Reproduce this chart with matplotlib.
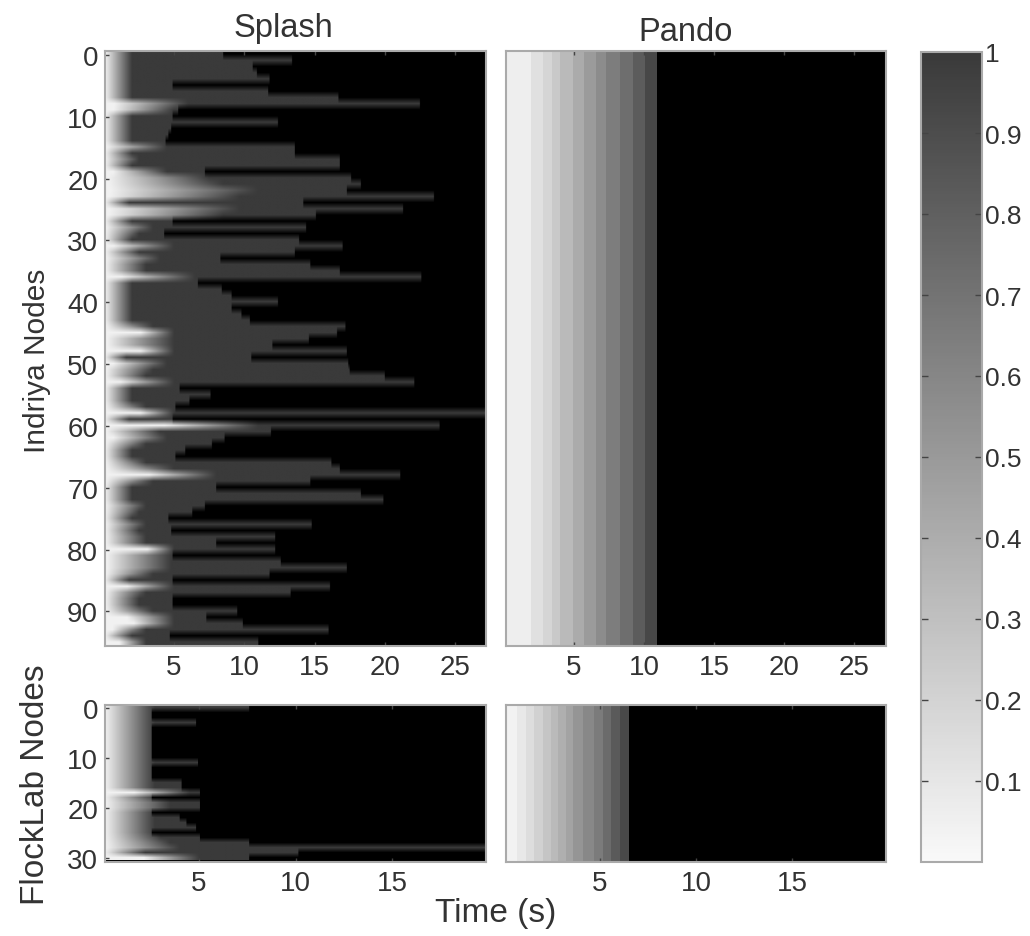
import numpy as np
import matplotlib; matplotlib.use("Agg")
import matplotlib.pyplot as plt
from matplotlib.colors import LinearSegmentedColormap, Normalize
from matplotlib.cm import ScalarMappable

W, H = 1030, 937
plt.rcParams.update({"font.family": ["Liberation Sans", "DejaVu Sans"], "font.size": 20,
                     "text.color": "#333333", "xtick.labelcolor": "#333333", "ytick.labelcolor": "#333333"})

# per node: time (s) the flood ends, time the ramp starts, time the ramp is full
indriya_end = [8.5, 13.4, 10.6, 10.9, 11.8, 4.9, 11.7, 16.7, 22.5, 5.3, 4.9, 12.4, 4.8, 4.6, 4.4, 13.6,
               13.6, 16.8, 16.8, 7.2, 17.6, 18.3, 17.3, 23.5, 14.2, 21.3, 15.1, 4.9, 14.4, 4.3, 13.9, 17.0,
               13.6, 8.3, 14.7, 16.8, 22.6, 6.7, 8.4, 9.1, 12.4, 9.1, 9.8, 10.4, 17.2, 16.6, 14.6, 12.0,
               17.3, 10.5, 17.4, 17.5, 20.0, 22.1, 5.4, 7.6, 6.1, 5.1, 27.3, 4.9, 23.9, 11.9, 8.6, 7.7,
               5.8, 5.1, 16.2, 16.8, 21.1, 14.7, 8.0, 18.3, 19.9, 7.2, 6.3, 4.6, 14.8, 4.8, 12.2, 8.0,
               12.2, 4.9, 12.6, 17.3, 11.8, 4.9, 16.1, 13.3, 4.9, 4.9, 9.5, 7.3, 9.9, 16.0, 4.7, 11.0]
indriya_hold = [0, 0, 0, 0, 0, 0, 0, 0, 0.5, 0.5, 0, 0, 0, 0, 0, 0,
                0, 0, 0, 0.5, 0, 0, 0, 0, 0, 0, 0, 0, 0, 0, 0, 0.5,
                0, 0, 0, 0, 1.0, 0, 0, 0, 0, 0, 0, 0, 0, 2.5, 0, 0,
                2.5, 0, 0.5, 0, 0, 1.0, 0, 0, 0, 0, 2.5, 0, 4.0, 0, 0.5, 0,
                0, 0, 0, 0, 3.0, 0, 0, 0, 0, 0, 0, 0, 0, 0, 0, 0,
                3.0, 0, 0, 0, 0, 0, 1.5, 0, 0, 0, 0, 1.5, 2.0, 0.5, 0, 1.0]
indriya_rise = [2, 2, 2, 2, 2, 2, 2, 2, 6.0, 5.0, 2, 2, 2, 2, 2, 4.5,
                2, 2.5, 2, 4.5, 7.5, 8.5, 11.0, 9.7, 1.8, 9.7, 8.5, 2, 3.5, 2.5, 2, 5.0,
                2.5, 4.0, 3.0, 3.0, 6.5, 2, 2, 2, 2, 2, 2, 2, 3.5, 5.0, 5.0, 5.0,
                5.0, 1.6, 4.5, 3.5, 3.0, 5.0, 2, 2, 2, 3.0, 5.0, 1.8, 11.0, 4.0, 4.5, 3.0,
                2, 2, 3.0, 5.0, 8.0, 3.5, 2, 2, 2, 3.0, 2.5, 2, 3.0, 2.5, 3.0, 3.0,
                5.0, 4.8, 4.8, 4.8, 3.5, 1.8, 5.0, 3.0, 2.5, 2.5, 3.5, 5.0, 5.0, 3.0, 2.0, 3.0]

flock_end = [7.6, 2.55, 2.55, 4.85, 2.55, 2.55, 2.55, 2.55, 2.55, 2.55, 2.55, 4.95, 2.55, 2.55, 2.55, 4.1,
             4.1, 5.05, 2.55, 5.05, 5.05, 2.55, 4.0, 4.35, 4.85, 2.55, 5.05, 7.6, 19.9, 10.15, 7.6]
flock_hold = [0, 0, 0, 0, 0, 0, 0, 0, 0, 0, 0, 0, 0, 0, 0, 0,
              0, 1.5, 0, 0, 0, 0, 0, 0, 0, 0, 0, 0, 0, 0, 2.0]
flock_rise = [2.7, 2.7, 2.7, 2.7, 2.7, 2.7, 2.7, 2.7, 2.7, 2.7, 2.7, 2.7, 2.7, 2.7, 2.7, 2.7,
              2.7, 4.5, 2.7, 3.5, 3.5, 2.7, 2.7, 2.7, 2.7, 2.7, 3.0, 3.5, 4.0, 2.2, 5.0]

# Pando is the same for every node, stepped in time
pando_top_edges = [0.1, 1.9, 2.8, 3.4, 4.0, 4.9, 5.7, 6.6, 7.3, 8.3, 9.2, 10.1, 10.9]
pando_top_levels = [0.06, 0.13, 0.19, 0.25, 0.33, 0.41, 0.49, 0.57, 0.65, 0.73, 0.82, 0.93]
pando_bot_edges = [0.1, 0.7, 1.15, 1.6, 2.05, 2.45, 2.85, 3.25, 3.6, 4.15, 4.7, 5.15, 5.6, 6.05, 6.5]
pando_bot_levels = [0.04, 0.09, 0.15, 0.21, 0.27, 0.33, 0.39, 0.45, 0.52, 0.59, 0.66, 0.74, 0.83, 0.92]

xt_top = [5, 10, 15, 20, 25]
xt_bot = [5, 10, 15]
yt_top = [0, 10, 20, 30, 40, 50, 60, 70, 80, 90]
yt_bot = [0, 10, 20, 30]
cb_ticks = [0.1, 0.2, 0.3, 0.4, 0.5, 0.6, 0.7, 0.8, 0.9, 1]
cb_labels = ["0.1", "0.2", "0.3", "0.4", "0.5", "0.6", "0.7", "0.8", "0.9", "1"]

cmap = LinearSegmentedColormap.from_list("g", ["#f9f9f9", "#3a3a3a"], N=256)
cmap.set_bad("black")
norm = Normalize(0, 1)

def add_ax(x0, y0, x1, y1):
    return fig.add_axes([x0 / W, 1 - y1 / H, (x1 - x0) / W, (y1 - y0) / H], facecolor="black")

def ramp_grid(end, hold, rise, tmax):
    t = np.arange(0, tmax, 0.05)
    end, hold, rise = np.array(end)[:, None], np.array(hold)[:, None], np.array(rise)[:, None]
    v = np.clip((t - hold) / (rise - hold), 0.04, 1)
    return np.ma.masked_where(t >= end, v)

def style(ax, xt, yt, xlim, ylim):
    ax.set_xlim(*xlim); ax.set_ylim(*ylim)
    ax.set_xticks(xt); ax.set_yticks(yt)
    ax.tick_params(direction="in", length=3, width=1, color="#444444", top=True, right=False, pad=6)
    ax.tick_params(axis="y", pad=5)
    for s in ax.spines.values():
        s.set_color("#aaaaaa"); s.set_linewidth(1.5)

fig = plt.figure(figsize=(W / 100, H / 100), dpi=100)

ax = add_ax(105, 52, 486, 647)
ax.imshow(ramp_grid(indriya_end, indriya_hold, indriya_rise, 27.4), cmap=cmap, norm=norm, aspect="auto",
          interpolation="bilinear", extent=(0, 27.4, 95.5, -0.5))
style(ax, xt_top, yt_top, (0.09, 27.2), (95.6, -0.65))

ax = add_ax(506, 52, 886, 647)
ax.pcolormesh(pando_top_edges, [-1, 96], np.array([pando_top_levels]), cmap=cmap, norm=norm)
style(ax, xt_top, [], (0.14, 27.3), (95.6, -0.65))

ax = add_ax(105, 706, 486, 863)
ax.imshow(ramp_grid(flock_end, flock_hold, flock_rise, 20), cmap=cmap, norm=norm, aspect="auto",
          interpolation="bilinear", extent=(0, 20, 30.5, -0.5))
style(ax, xt_bot, yt_bot, (0.13, 19.87), (30.8, -0.6))

ax = add_ax(506, 706, 886, 863)
ax.pcolormesh(pando_bot_edges, [-1, 31], np.array([pando_bot_levels]), cmap=cmap, norm=norm)
style(ax, xt_bot, [], (0.13, 19.87), (30.8, -0.6))

cax = fig.add_axes([921 / W, 1 - 863 / H, 61 / W, (863 - 53) / H])
cb = fig.colorbar(ScalarMappable(norm=norm, cmap=cmap), cax=cax)
cb.set_ticks(cb_ticks); cb.set_ticklabels(cb_labels)
cb.ax.tick_params(direction="in", length=5, width=1, color="#444444", left=True, right=True, pad=2, labelsize=19)
cb.outline.set_edgecolor("#aaaaaa"); cb.outline.set_linewidth(1.5)

fig.text(283 / W, 1 - 37 / H, "Splash", ha="center", va="baseline", fontsize=23.5)
fig.text(686 / W, 1 - 41 / H, "Pando", ha="center", va="baseline", fontsize=23.5)
fig.text(37 / W, 1 - 361 / H, "Indriya Nodes", rotation=90, ha="center", va="center", fontsize=21.5)
fig.text(36 / W, 1 - 785 / H, "FlockLab Nodes", rotation=90, ha="center", va="center", fontsize=24)
fig.text(496 / W, 1 - 914 / H, "Time (s)", ha="center", va="center", fontsize=24)

fig.savefig("out.png", dpi=100)
